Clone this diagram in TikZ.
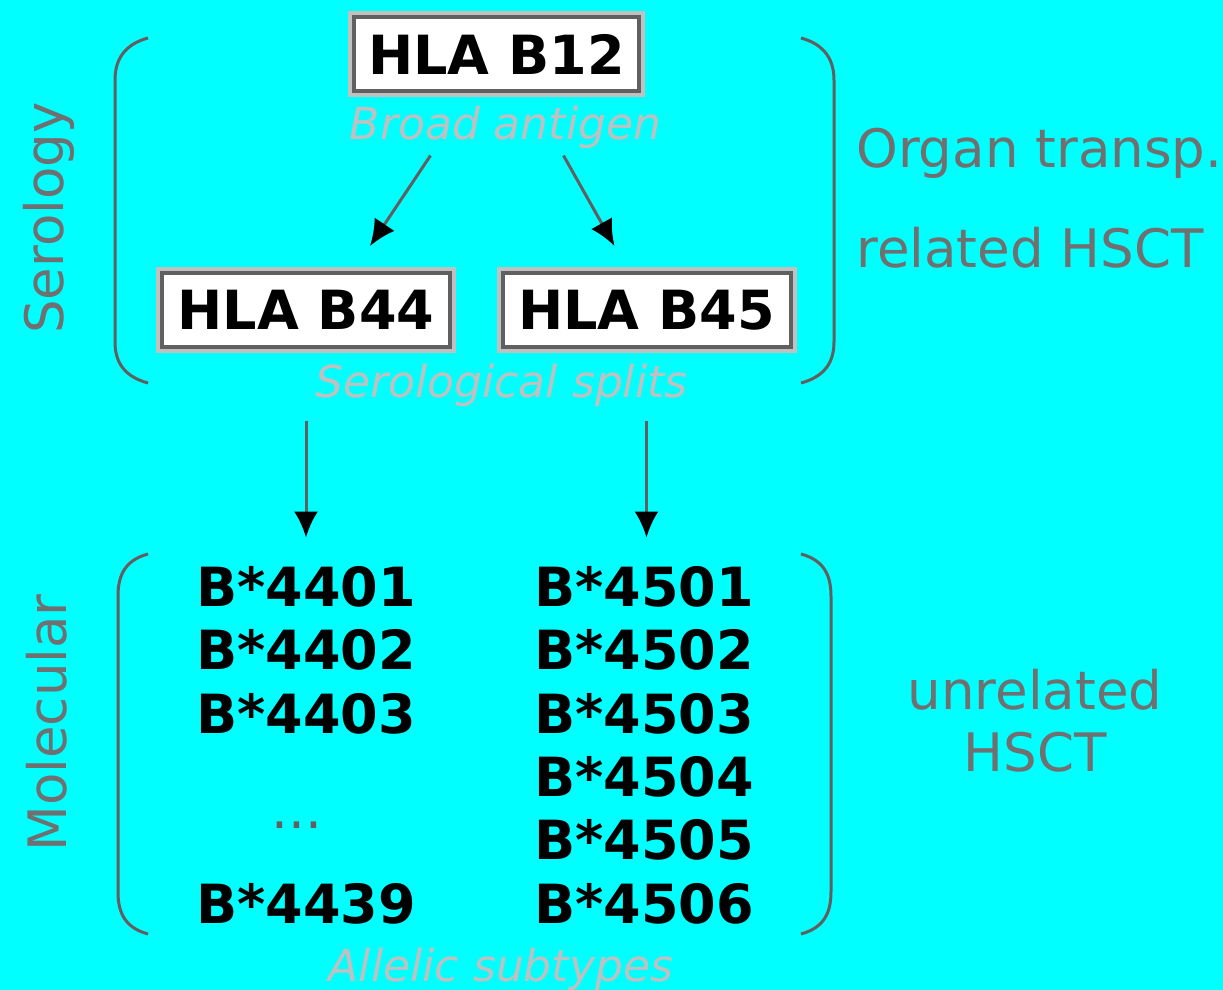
\documentclass[tikz,border=0pt]{standalone}
\usepackage{fontspec}
\setmainfont{DejaVu Sans}[ItalicFont={DejaVu Sans Oblique}, BoldFont={DejaVu Sans Bold}, BoldItalicFont={DejaVu Sans Bold Oblique}]
\usepackage{tikz}
\usetikzlibrary{arrows.meta, calc, positioning}

\definecolor{bgcyan}{RGB}{0,255,255}
\definecolor{lightgrey}{RGB}{192,192,192}
\definecolor{midgrey}{RGB}{112,112,112}
\definecolor{darkgrey}{RGB}{96,96,96}
\definecolor{inkblack}{RGB}{0,0,0}

\tikzstyle{hlabox} = [rectangle, draw=lightgrey, line width=2pt, fill=white, text=inkblack, minimum width=148pt, minimum height=41pt, inner sep=0pt, font=\fontsize{27}{32}\selectfont\bfseries, path picture={\draw[darkgrey, line width=6pt] (path picture bounding box.south west) rectangle (path picture bounding box.north east);}]
\tikzstyle{allele} = [anchor=base west, inner sep=0pt, text=inkblack, font=\fontsize{27}{32}\selectfont\bfseries]
\tikzstyle{note} = [anchor=base, inner sep=0pt, text=lightgrey, font=\fontsize{22}{26}\selectfont\itshape]
\tikzstyle{side} = [inner sep=0pt, text=midgrey, font=\fontsize{26.5}{31}\selectfont]
\tikzstyle{arrow} = [draw=darkgrey, line width=1.5pt, -{Latex[inkblack, length=13pt, width=12pt]}]
\tikzstyle{paren} = [draw=darkgrey, line width=1.5pt]

\begin{document}
\begin{tikzpicture}[x=0.5pt, y=-0.5pt]
    \useasboundingbox (0,0) rectangle (1223,990);
    \fill[bgcyan] (0,0) rectangle (1223,990);

    % Serologia
    \node (b12) [hlabox, minimum width=146.5pt] at (496.5,54) {HLA B12};
    \node (broad) [note] at (505.5,140) {Broad antigen};
    \node (b44) [hlabox] at (306,310) {HLA B44};
    \node (b45) [hlabox] at (646.5,310) {HLA B45};
    \node (splits) [note] at (501.5,397) {Serological splits};

    % Alelos
    \node (l1) [allele] at (196,606) {B*4401};
    \node (l2) [allele] at (196,669) {B*4402};
    \node (l3) [allele] at (196,733) {B*4403};
    \node (ldots) [side, anchor=base, text=darkgrey] at (297,828) {...};
    \node (l6) [allele] at (196,923) {B*4439};
    \node (r1) [allele] at (534,606) {B*4501};
    \node (r2) [allele] at (534,669) {B*4502};
    \node (r3) [allele] at (534,733) {B*4503};
    \node (r4) [allele] at (534,796) {B*4504};
    \node (r5) [allele] at (534,859) {B*4505};
    \node (r6) [allele] at (534,923) {B*4506};
    \node (allelic) [note] at (501,981) {Allelic subtypes};

    % Etiquetas laterales
    \node (serology) [side, rotate=90, anchor=base] at (63,218) {Serology};
    \node (molecular) [side, rotate=90, anchor=base] at (67,723) {Molecular};
    \node (organ) [side, anchor=base west] at (856,168) {Organ transp.};
    \node (related) [side, anchor=base west] at (856,268) {related HSCT};
    \node (unrelated) [side, anchor=south, align=center] at (1035,773) {unrelated\\HSCT};

    % Parentesis
    \draw [paren] (148,38) .. controls (126,44) and (115,58) .. (115,80) -- (115,342) .. controls (115,364) and (126,377) .. (148,383);
    \draw [paren] (801,38) .. controls (823,44) and (834,58) .. (834,80) -- (834,342) .. controls (834,364) and (823,377) .. (801,383);
    \draw [paren] (148,554) .. controls (126,560) and (118,574) .. (118,596) -- (118,892) .. controls (118,914) and (126,928) .. (148,934);
    \draw [paren] (801,554) .. controls (823,560) and (831,574) .. (831,596) -- (831,892) .. controls (831,914) and (823,928) .. (801,934);

    % Flechas
    \draw [arrow] ($(broad.south)+(-75,6)$) -- ($(b44.north)+(64,-21)$);
    \draw [arrow] ($(broad.south)+(58,6)$) -- ($(b45.north)+(-32,-21)$);
    \draw [arrow, shorten <=34pt, shorten >=14pt] (b44.south) -- (b44.south |- l1.north);
    \draw [arrow, shorten <=34pt, shorten >=14pt] (b45.south) -- (b45.south |- r1.north);

\end{tikzpicture}
\end{document}
